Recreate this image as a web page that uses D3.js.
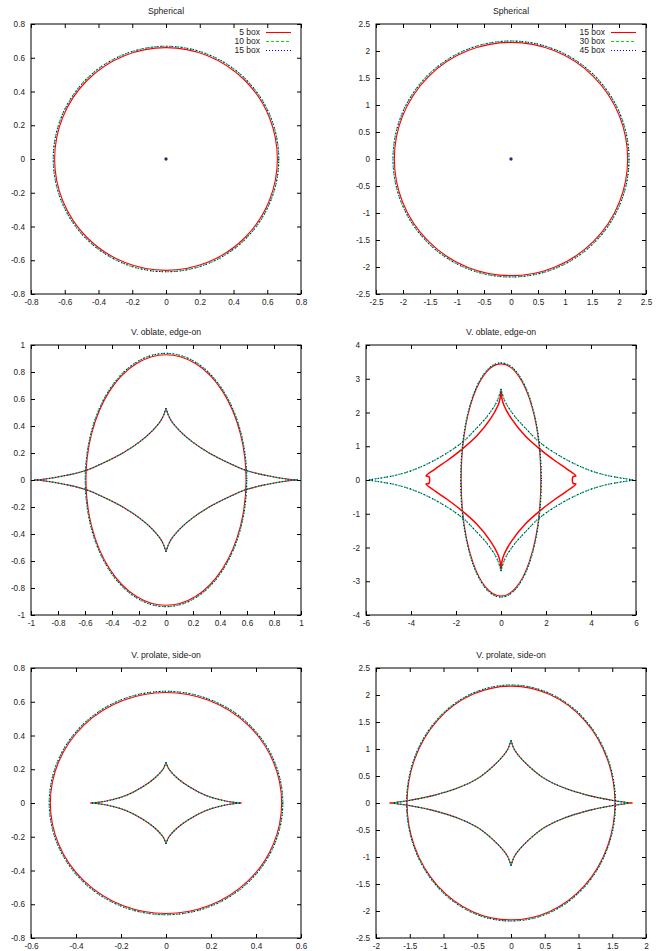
<!doctype html>
<html lang="en">
<head>
  <meta charset="utf-8">
  <script src="https://cdnjs.cloudflare.com/ajax/libs/d3/7.8.5/d3.min.js"></script>
  <style type="text/css">
    body {
      padding: 0;
      margin: 0;
      background: #fff;
    }
    svg text {
      font-family: "Liberation Sans", Arial, Helvetica, sans-serif;
      fill: #222;
    }
  </style>
</head>
<body>
<svg id="canvas" width="663" height="951"></svg>
<script>

// panels are read left to right, top to bottom
var titles = ['Spherical', 'Spherical', 'V. oblate, edge-on', 'V. oblate, edge-on',
              'V. prolate, side-on', 'V. prolate, side-on'];
var xDomains = [[-0.8, 0.8], [-2.5, 2.5], [-1, 1], [-6, 6], [-0.6, 0.6], [-2, 2]];
var yDomains = [[-0.8, 0.8], [-2.5, 2.5], [-1, 1], [-4, 4], [-0.8, 0.8], [-2.5, 2.5]];
var xTicks = [
  [-0.8, -0.6, -0.4, -0.2, 0, 0.2, 0.4, 0.6, 0.8],
  [-2.5, -2, -1.5, -1, -0.5, 0, 0.5, 1, 1.5, 2, 2.5],
  [-1, -0.8, -0.6, -0.4, -0.2, 0, 0.2, 0.4, 0.6, 0.8, 1],
  [-6, -4, -2, 0, 2, 4, 6],
  [-0.6, -0.4, -0.2, 0, 0.2, 0.4, 0.6],
  [-2, -1.5, -1, -0.5, 0, 0.5, 1, 1.5, 2]
];
var yTicks = [
  [-0.8, -0.6, -0.4, -0.2, 0, 0.2, 0.4, 0.6, 0.8],
  [-2.5, -2, -1.5, -1, -0.5, 0, 0.5, 1, 1.5, 2, 2.5],
  [-1, -0.8, -0.6, -0.4, -0.2, 0, 0.2, 0.4, 0.6, 0.8, 1],
  [-4, -3, -2, -1, 0, 1, 2, 3, 4],
  [-0.8, -0.6, -0.4, -0.2, 0, 0.2, 0.4, 0.6, 0.8],
  [-2.5, -2, -1.5, -1, -0.5, 0, 0.5, 1, 1.5, 2, 2.5]
];
var legendLabels = [['5 box', '10 box', '15 box'], ['15 box', '30 box', '45 box'],
                    null, null, null, null];

// critical curve of each series: [rx, ry]  (series: red, green, blue)
var ellipseRadii = [
  [[0.660, 0.660], [0.668, 0.668], [0.668, 0.668]],
  [[2.160, 2.160], [2.185, 2.185], [2.185, 2.185]],
  [[0.593, 0.928], [0.598, 0.938], [0.598, 0.938]],
  [[1.770, 3.440], [1.790, 3.470], [1.790, 3.470]],
  [[0.514, 0.655], [0.519, 0.662], [0.519, 0.662]],
  [[1.540, 2.165], [1.548, 2.185], [1.548, 2.185]]
];

// caustics: first quadrant (mirrored into the others)
var causticSphA = [[0, 0]];
var causticSphB = [[0, 0]];
var causticOblateA = [[0, 0.53], [0.03, 0.453], [0.1, 0.365], [0.2, 0.279], [0.326, 0.197],
                      [0.449, 0.134], [0.593, 0.071], [0.746, 0.033], [0.894, 0.007], [0.975, 0]];
var causticOblateBred = [[0, 2.66], [0.04, 2.42], [0.14, 2.2], [0.47, 1.81], [1.07, 1.31],
                         [1.81, 0.87], [2.4, 0.57], [2.92, 0.33], [3.33, 0.12], [3.2, 0.1],
                         [3.17, 0]];
var causticOblateB = [[0, 2.7], [0.18, 2.33], [0.62, 1.88], [1.21, 1.45], [1.73, 1.11],
                      [2.7, 0.68], [3.73, 0.34], [4.62, 0.15], [5.66, 0.025], [5.92, 0]];
var causticProlateA = [[0, 0.241], [0.012, 0.203], [0.047, 0.151], [0.107, 0.093],
                       [0.181, 0.043], [0.27, 0.01], [0.336, 0]];
var causticProlateBred = [[0, 1.154], [0.05, 0.99], [0.173, 0.795], [0.469, 0.475],
                          [0.765, 0.29], [1.16, 0.136], [1.53, 0.043], [1.8, 0]];
var causticProlateB = [[0, 1.16], [0.05, 0.99], [0.173, 0.795], [0.469, 0.475],
                       [0.765, 0.29], [1.16, 0.136], [1.53, 0.043], [1.76, 0]];

var caustics = [
  [causticSphA, causticSphA, causticSphA],
  [causticSphB, causticSphB, causticSphB],
  [causticOblateA, causticOblateA, causticOblateA],
  [causticOblateBred, causticOblateB, causticOblateB],
  [causticProlateA, causticProlateA, causticProlateA],
  [causticProlateBred, causticProlateB, causticProlateB]
];

var seriesColors = ['#ff0000', '#00e000', '#0000ff'];
var seriesDash = [null, '3,2', '1,2'];

// layout of each frame (left, top)
var frames = [[31, 24], [376, 24], [31, 345], [366, 345], [31, 668], [376, 668]];
var frameSize = 270;
var tickLen = 4;

var svg = d3.select('#canvas');

function fmt(v) {
  return String(+v.toFixed(3));
}

function mirror(points, sx, sy) {
  return points.map(function(p) { return [p[0] * sx, p[1] * sy]; });
}

for (var k = 0; k < 6; k++) {
  var x0 = frames[k][0];
  var y0 = frames[k][1];
  var x = d3.scaleLinear().domain(xDomains[k]).range([x0, x0 + frameSize]);
  var y = d3.scaleLinear().domain(yDomains[k]).range([y0 + frameSize, y0]);
  var g = svg.append('g');

  g.append('text')
    .attr('x', x0 + frameSize / 2)
    .attr('y', y0 - 10)
    .attr('text-anchor', 'middle')
    .style('font-size', '8.7px')
    .text(titles[k]);

  var clipId = 'clip' + k;
  g.append('clipPath').attr('id', clipId)
    .append('rect')
    .attr('x', x0).attr('y', y0)
    .attr('width', frameSize).attr('height', frameSize);

  var plot = g.append('g').attr('clip-path', 'url(#' + clipId + ')');

  var line = d3.line()
    .x(function(d) { return x(d[0]); })
    .y(function(d) { return y(d[1]); })
    .curve(d3.curveCatmullRom.alpha(0.5));

  for (var s = 0; s < 3; s++) {
    var rad = ellipseRadii[k][s];
    var el = plot.append('ellipse')
      .attr('cx', x(0))
      .attr('cy', y(0))
      .attr('rx', x(rad[0]) - x(0))
      .attr('ry', y(0) - y(rad[1]))
      .attr('fill', 'none')
      .attr('stroke', seriesColors[s])
      .attr('stroke-width', 1.1);
    if (seriesDash[s]) el.attr('stroke-dasharray', seriesDash[s]);

    var pts = caustics[k][s];
    if (pts.length === 1) {
      plot.append('circle')
        .attr('cx', x(pts[0][0]))
        .attr('cy', y(pts[0][1]))
        .attr('r', 1.7 - s * 0.3)
        .attr('fill', seriesColors[s]);
      continue;
    }
    var quads = [[1, 1], [-1, 1], [-1, -1], [1, -1]];
    for (var q = 0; q < 4; q++) {
      var p = plot.append('path')
        .attr('d', line(mirror(pts, quads[q][0], quads[q][1])))
        .attr('fill', 'none')
        .attr('stroke', seriesColors[s])
        .attr('stroke-width', (k === 3 && s === 0) ? 1.5 : 1.1);
      if (seriesDash[s]) p.attr('stroke-dasharray', seriesDash[s]);
    }
  }

  // axes, ticks pointing inward on all four sides
  var ax = g.append('g').attr('transform', 'translate(0,' + (y0 + frameSize) + ')')
    .call(d3.axisBottom(x).tickValues(xTicks[k]).tickFormat(fmt)
      .tickSizeInner(-tickLen).tickSizeOuter(0).tickPadding(5));
  var at = g.append('g').attr('transform', 'translate(0,' + y0 + ')')
    .call(d3.axisTop(x).tickValues(xTicks[k]).tickFormat('')
      .tickSizeInner(-tickLen).tickSizeOuter(0));
  var al = g.append('g').attr('transform', 'translate(' + x0 + ',0)')
    .call(d3.axisLeft(y).tickValues(yTicks[k]).tickFormat(fmt)
      .tickSizeInner(-tickLen).tickSizeOuter(0).tickPadding(6));
  var ar = g.append('g').attr('transform', 'translate(' + (x0 + frameSize) + ',0)')
    .call(d3.axisRight(y).tickValues(yTicks[k]).tickFormat('')
      .tickSizeInner(-tickLen).tickSizeOuter(0));
  [ax, at, al, ar].forEach(function(a) {
    a.select('.domain').remove();
    a.selectAll('line').attr('stroke', '#000');
    a.selectAll('text')
      .style('font-size', '8.2px')
      .style('font-family', '"Liberation Sans", Arial, Helvetica, sans-serif')
      .attr('fill', '#222');
  });

  g.append('rect')
    .attr('x', x0).attr('y', y0)
    .attr('width', frameSize).attr('height', frameSize)
    .attr('fill', 'none')
    .attr('stroke', '#000')
    .attr('stroke-width', 1);

  if (legendLabels[k]) {
    var right = x0 + frameSize;
    for (var s = 0; s < 3; s++) {
      var ly = y0 + 8.5 + s * 9;
      g.append('text')
        .attr('x', right - 41)
        .attr('y', ly)
        .attr('dy', '0.35em')
        .attr('text-anchor', 'end')
        .style('font-size', '8.5px')
        .text(legendLabels[k][s]);
      var ls = g.append('line')
        .attr('x1', right - 35).attr('x2', right - 10)
        .attr('y1', ly).attr('y2', ly)
        .attr('stroke', seriesColors[s])
        .attr('stroke-width', 1.1);
      if (seriesDash[s]) ls.attr('stroke-dasharray', seriesDash[s]);
    }
  }
}
</script>
</body>
</html>
